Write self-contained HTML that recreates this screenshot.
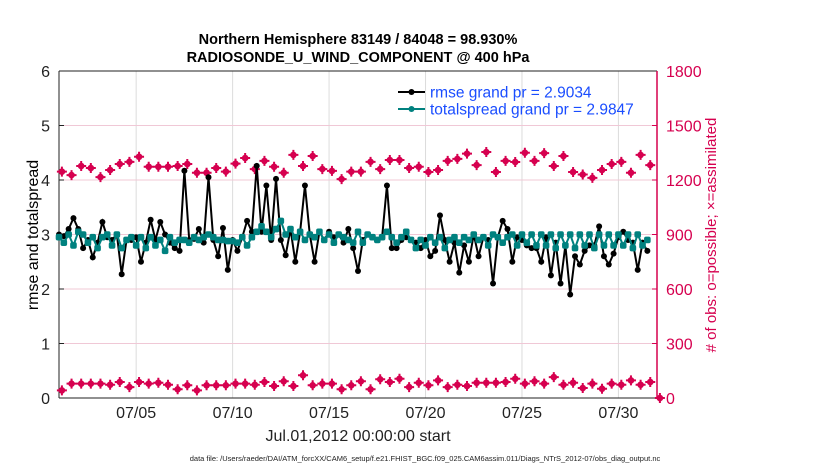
<!DOCTYPE html>
<html><head><meta charset="utf-8"><style>
body{margin:0;background:#fff;}
svg{display:block;font-family:"Liberation Sans",Arial,sans-serif;}
</style></head><body>
<svg id="chart" width="830" height="470">
<text x="358" y="44" text-anchor="middle" font-size="14.5" font-weight="bold">Northern Hemisphere 83149 / 84048 = 98.930%</text>
<text x="358" y="62" text-anchor="middle" font-size="14.5" font-weight="bold">RADIOSONDE_U_WIND_COMPONENT @ 400 hPa</text>
<g id="grid"></g><g id="axes"></g><g id="marks"></g><g id="legend"></g>
<text transform="translate(38,235) rotate(-90)" text-anchor="middle" font-size="16">rmse and totalspread</text>
<text transform="translate(716,235) rotate(-90)" text-anchor="middle" font-size="15" fill="#d6004f"># of obs: o=possible; ×=assimilated</text>
<text x="358" y="441" text-anchor="middle" font-size="16" fill="#222">Jul.01,2012 00:00:00 start</text>
<text x="425" y="461" text-anchor="middle" font-size="7.5" fill="#222">data file: /Users/raeder/DAI/ATM_forcXX/CAM6_setup/f.e21.FHIST_BGC.f09_025.CAM6assim.011/Diags_NTrS_2012-07/obs_diag_output.nc</text>
</svg>
<script>
const xTickLabels=["07/05","07/10","07/15","07/20","07/25","07/30"];
const xTickDays=[4,9,14,19,24,29];
const leftTicks=[0,1,2,3,4,5,6];
const rightTicks=[0,300,600,900,1200,1500,1800];
const rmse=[3.0,2.97,3.1,3.3,3.1,2.75,2.9,2.58,2.85,3.23,2.95,2.9,3.0,2.27,2.9,2.9,2.95,2.5,2.85,3.27,2.9,3.23,3.0,2.85,2.75,2.7,4.17,2.9,2.92,3.1,2.85,4.05,2.9,2.6,3.12,2.35,2.9,2.7,2.95,3.25,3.05,4.26,3.05,3.9,2.9,4.02,2.9,2.62,3.1,2.5,3.05,3.9,3.0,2.5,3.05,2.9,3.05,2.95,3.0,2.85,
3.1,2.75,2.33,2.9,3.0,2.95,2.9,2.95,3.9,2.75,2.75,2.9,2.95,2.9,2.85,2.75,2.9,2.6,2.7,3.35,2.9,2.5,2.85,2.3,2.8,2.5,3.0,2.6,2.95,2.9,2.1,2.95,3.25,3.1,2.5,2.95,2.9,2.8,2.75,2.75,2.5,2.95,2.25,2.85,2.1,2.8,1.9,2.6,2.45,2.7,2.8,2.8,3.15,2.6,2.45,2.65,2.95,3.05,2.9,2.85,2.35,2.85,2.7];
const spread=[2.95,2.85,3.0,2.8,3.05,3.0,2.85,2.95,2.75,2.95,3.0,2.8,3.0,2.75,2.9,2.95,2.8,2.95,2.75,2.95,2.8,2.9,2.7,2.95,2.85,2.9,2.9,2.85,2.95,2.9,2.95,3.0,2.95,2.9,2.9,2.88,2.88,2.85,2.95,2.8,2.95,3.05,3.15,3.05,2.95,3.1,3.25,3.0,3.1,2.95,3.05,2.9,3.0,2.95,3.05,2.9,3.0,2.85,3.0,2.95,
2.9,2.85,3.05,2.85,3.0,2.95,2.9,2.95,3.05,2.95,2.85,2.95,3.05,2.9,2.75,2.9,2.8,2.95,2.85,2.95,2.75,2.9,2.95,2.85,2.95,2.9,3.0,2.9,2.95,2.8,3.0,2.95,2.85,2.95,3.0,2.8,3.0,2.85,3.0,2.8,3.0,2.8,3.0,2.75,3.0,2.8,3.0,2.75,3.0,2.8,3.0,2.75,3.0,2.8,3.0,2.8,3.0,2.8,3.0,2.75,3.0,2.8,2.9];
const obsPossible=[1246,1227,1277,1266,1216,1255,1288,1300,1328,1273,1273,1273,1277,1288,1240,1240,1266,1246,1290,1321,1260,1305,1273,1240,1338,1277,1332,1260,1250,1205,1246,1246,1300,1260,1310,1310,1266,1273,1244,1255,1305,1316,1345,1282,1354,1244,1305,1299,1350,1305,1348,1277,1332,1244,1230,1212,1255,1288,1300,1240,1338,1282];
const obsLow=[42,79,79,79,79,73,88,60,88,79,84,73,48,70,42,70,70,70,79,79,73,88,66,92,66,125,70,79,79,48,70,92,48,103,88,106,60,84,70,97,60,73,66,84,84,84,88,106,79,92,79,115,73,84,55,79,51,79,73,97,73,88,0];

const X0=59,X1=657,Y0=398,Y1=71;
const dayX=d=>X0+(X1-X0)*d/31;
const yL=v=>Y0-(Y0-Y1)*v/6;
const yR=v=>Y0-(Y0-Y1)*v/1800;
const ns="http://www.w3.org/2000/svg";
function mk(tag,attrs,parent){const e=document.createElementNS(ns,tag);for(const k in attrs)e.setAttribute(k,attrs[k]);parent.appendChild(e);return e;}
const grid=document.getElementById('grid'),axes=document.getElementById('axes'),marks=document.getElementById('marks'),leg=document.getElementById('legend');
const MAG="#d6004f",TEAL="#00817f";

xTickDays.forEach((d,i)=>{
  const x=dayX(d);
  const g=mk('line',{x1:x,x2:x,y1:Y1,y2:Y0,stroke:"#dcdcdc","stroke-width":1},grid);
  
  
  const t=mk('text',{x:x,y:418,"text-anchor":"middle","font-size":16,fill:"#222"},axes);
  t.textContent=xTickLabels[i];
  
  
});
rightTicks.forEach(v=>{
  const y=yR(v);
  if(v>0&&v<1800){const g=mk('line',{x1:X0,x2:X1,y1:y,y2:y,stroke:"#f0c8d6","stroke-width":1},grid);
  
  }
  const t=mk('text',{x:X1+9,y:y+6,"font-size":16,fill:MAG},axes);
  t.textContent=v;
  
  
  mk('line',{x1:X1-5,x2:X1,y1:y,y2:y,stroke:MAG,"stroke-width":1},axes);
});
leftTicks.forEach(v=>{
  const y=yL(v);
  const t=mk('text',{x:X0-9,y:y+6,"text-anchor":"end","font-size":16,fill:"#222"},axes);
  t.textContent=v;
  
  
  mk('line',{x1:X0,x2:X0+5,y1:y,y2:y,stroke:"#222","stroke-width":1},axes);
});
const fr=mk('line',{x1:X0,x2:X1,y1:Y1,y2:Y1,stroke:"#222","stroke-width":1},axes);

const bx=mk('line',{x1:X0,x2:X1,y1:Y0,y2:Y0,stroke:"#222","stroke-width":1},axes);

const la=mk('line',{x1:X0,x2:X0,y1:Y1,y2:Y0,stroke:"#222","stroke-width":1},axes);

const ra=mk('line',{x1:X1,x2:X1,y1:Y1,y2:Y0,stroke:MAG,"stroke-width":1.5},axes);


function obsMark(x,y,name){
  const g=mk('g',{},marks);
  
  
  mk('circle',{cx:x,cy:y,r:3.3,fill:MAG},g);
  mk('path',{d:`M${x-5} ${y}H${x+5}M${x} ${y-5}V${y+5}`,stroke:MAG,"stroke-width":2},g);
}
const obsX=j=>dayX(0.15+j*0.5);
obsPossible.forEach((v,j)=>obsMark(obsX(j),yR(v),'obs-possible-point'));
obsLow.forEach((v,j)=>obsMark(obsX(j),yR(v),'obs-assimilated-point'));

const serX=i=>dayX(i*0.25);
function series(vals,color,name,shape){
  const p=mk('polyline',{points:vals.map((v,i)=>serX(i)+","+yL(v)).join(" "),fill:"none",stroke:color,"stroke-width":2},marks);
  
  
  vals.forEach((v,i)=>{
    let c;
    if(shape==='sq'){c=mk('rect',{x:serX(i)-3.3,y:yL(v)-3.3,width:6.6,height:6.6,rx:2,fill:color},marks);}
    else{c=mk('circle',{cx:serX(i),cy:yL(v),r:3,fill:color},marks);}
    
    
  });
}
series(rmse,"#000",'rmse','c');
series(spread,TEAL,'totalspread','sq');

[["rmse grand pr = 2.9034","#000",92,'legend-entry-rmse'],["totalspread grand pr = 2.9847",TEAL,109,'legend-entry-totalspread']].forEach(([txt,col,y,nm])=>{
  const g=mk('g',{},leg);
  
  
  mk('line',{x1:398,x2:425,y1:y,y2:y,stroke:col,"stroke-width":2},g);
  mk('circle',{cx:411.5,cy:y,r:3,fill:col},g);
  const t=mk('text',{x:430,y:y+5.5,"font-size":15.5,fill:"#1a4dff"},g);
  t.textContent=txt;
});
</script>
</body></html>
